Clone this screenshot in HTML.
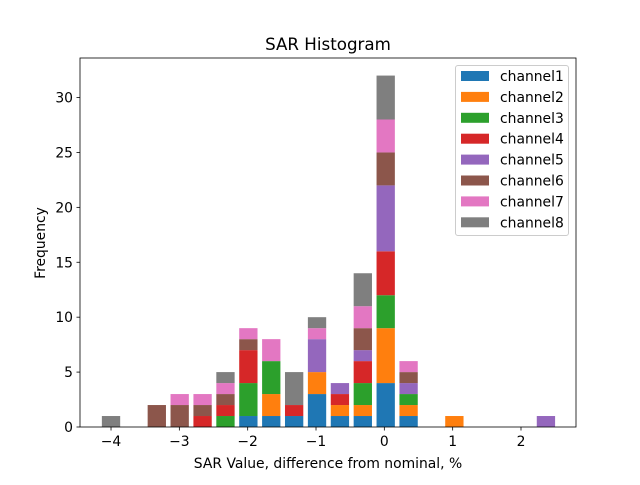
<!DOCTYPE html>
<html><head><meta charset="utf-8"><style>
body{margin:0;background:#fff}
svg{font-family:"DejaVu Sans","Liberation Sans",sans-serif}
</style></head><body>
<svg id="chart" width="640" height="480" viewBox="0 0 640 480" xmlns="http://www.w3.org/2000/svg">
<rect width="640" height="480" fill="#fff"/>
<text x="328" y="50" font-size="16.7" text-anchor="middle" fill="#000">SAR Histogram</text>
<g id="bars"></g>
<g id="axes"></g>
<g id="legend"></g>
<text x="328" y="468" font-size="13.9" text-anchor="middle">SAR Value, difference from nominal, %</text>
<text x="0" y="0" font-size="13.9" text-anchor="middle" transform="translate(45,243) rotate(-90)">Frequency</text>
</svg>
<script>
const binCenters = [-4.0,-3.665,-3.33,-2.995,-2.66,-2.325,-1.99,-1.655,-1.32,-0.985,-0.65,-0.315,0.02,0.355,0.69,1.025,1.36,1.695,2.03,2.365];
const channelNames = ["channel1","channel2","channel3","channel4","channel5","channel6","channel7","channel8"];
const ch1 = [0,0,0,0,0,0,1,1,1,3,1,1,4,1,0,0,0,0,0,0];
const ch2 = [0,0,0,0,0,0,0,2,0,2,1,1,5,1,0,1,0,0,0,0];
const ch3 = [0,0,0,0,0,1,3,3,0,0,0,2,3,1,0,0,0,0,0,0];
const ch4 = [0,0,0,0,1,1,3,0,1,0,1,2,4,0,0,0,0,0,0,0];
const ch5 = [0,0,0,0,0,0,0,0,0,3,1,1,6,1,0,0,0,0,0,1];
const ch6 = [0,0,2,2,1,1,1,0,0,0,0,2,3,1,0,0,0,0,0,0];
const ch7 = [0,0,0,1,1,1,1,2,0,1,0,2,3,1,0,0,0,0,0,0];
const ch8 = [1,0,0,0,0,1,0,0,3,1,0,3,4,0,0,0,0,0,0,0];
const xTicks = [-4,-3,-2,-1,0,1,2];
const xTickLabels = ["\u22124","\u22123","\u22122","\u22121","0","1","2"];
const yTicks = [0,5,10,15,20,25,30];
const colors = ["#1f77b4","#ff7f0e","#2ca02c","#d62728","#9467bd","#8c564b","#e377c2","#7f7f7f"];
const series = [ch1,ch2,ch3,ch4,ch5,ch6,ch7,ch8];
const L=80,R=576,T=58,B=427, xmin=-4.454, xmax=2.805, ymin=0, ymax=33.6;
const X=v=>L+(v-xmin)/(xmax-xmin)*(R-L);
const Y=v=>B-(v-ymin)/(ymax-ymin)*(B-T);
const NS="http://www.w3.org/2000/svg";
function mk(tag,attrs,parent){const e=document.createElementNS(NS,tag);for(const k in attrs)e.setAttribute(k,attrs[k]);parent.appendChild(e);return e;}
const bars=document.getElementById('bars');
const bw=0.268;
binCenters.forEach((c,i)=>{
  let base=0;
  series.forEach((s,j)=>{
    const v=s[i]; if(!v)return;
    const r=mk('rect',{x:X(c-bw/2),y:Y(base+v),width:X(c+bw/2)-X(c-bw/2),height:Y(base)-Y(base+v),fill:colors[j]},bars);
    
    
    base+=v;
  });
});
const ax=document.getElementById('axes');
const frame=mk('rect',{x:L,y:T,width:R-L,height:B-T,fill:'none',stroke:'#000','stroke-width':0.8},ax);


xTicks.forEach((t,i)=>{
  const tk=mk('line',{x1:X(t),x2:X(t),y1:B,y2:B+3.5,stroke:'#000','stroke-width':0.8},ax);
  
  
  const tx=mk('text',{x:X(t),y:B+19,'font-size':13.9,'text-anchor':'middle'},ax);
  tx.textContent=xTickLabels[i];
  
  
});
yTicks.forEach(t=>{
  const tk=mk('line',{x1:L-3.5,x2:L,y1:Y(t),y2:Y(t),stroke:'#000','stroke-width':0.8},ax);
  
  
  const tx=mk('text',{x:L-7,y:Y(t)+5,'font-size':13.9,'text-anchor':'end'},ax);
  tx.textContent=String(t);
  
  
});
const lg=document.getElementById('legend');
const box=mk('rect',{x:455.5,y:65.5,width:113,height:170,rx:2.5,fill:'#fff','fill-opacity':0.8,stroke:'#ccc','stroke-width':1},lg);


channelNames.forEach((n,j)=>{
  const cy=76+j*20.9;
  const p=mk('rect',{x:461,y:cy-5,width:28,height:10,fill:colors[j]},lg);
  
  
  const t=mk('text',{x:500,y:cy+5,'font-size':13.9},lg);
  t.textContent=n;
  
  
});
</script>
</body></html>
